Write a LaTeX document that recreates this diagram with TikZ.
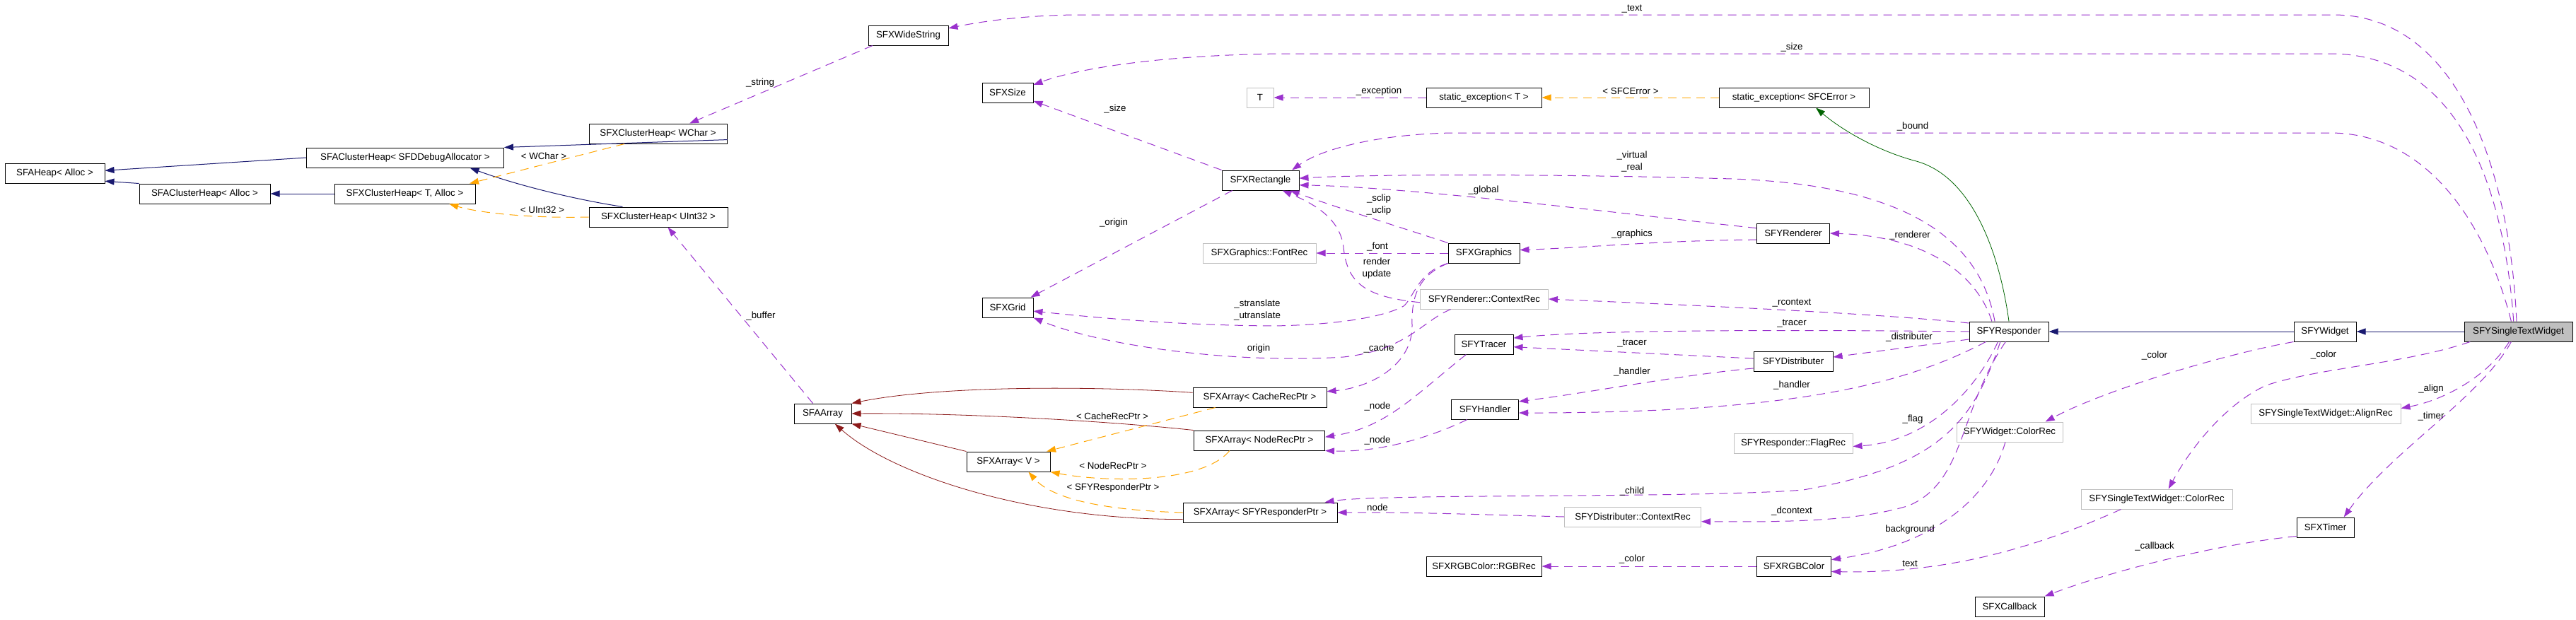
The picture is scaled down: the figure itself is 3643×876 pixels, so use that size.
\documentclass[tikz,border=0pt]{standalone}
\usepackage{fontspec}
\setmainfont{Liberation Sans}
\usetikzlibrary{arrows.meta}
\definecolor{edgeblue}{HTML}{191970}
\definecolor{edgegreen}{HTML}{006400}
\definecolor{edgered}{HTML}{8B1A1A}
\definecolor{edgeuse}{HTML}{9A32CD}
\definecolor{edgetmpl}{HTML}{FFA500}
\definecolor{boxgray}{HTML}{BFBFBF}
\newcommand{\dxfont}{\fontsize{13.3}{17}\selectfont}

\begin{document}
\begin{tikzpicture}[x=1pt, y=-1pt,
  box/.style={line width=1pt, minimum height=28pt, inner sep=0pt, font=\dxfont},
  cls/.style={box, draw=black},
  ext/.style={box, draw=boxgray},
  cur/.style={box, draw=black, fill=boxgray},
  lbl/.style={font=\dxfont, align=center, inner sep=0pt},
  tip/.style={-{Triangle[length=13pt,width=9pt]}},
  inh/.style={tip, draw=edgeblue, line width=1pt},
  prot/.style={tip, draw=edgegreen, line width=0.8pt},
  priv/.style={tip, draw=edgered, line width=0.8pt},
  use/.style={tip, draw=edgeuse, line width=1pt, dash pattern=on 12pt off 8pt},
  tmpl/.style={tip, draw=edgetmpl, line width=1pt, dash pattern=on 12pt off 8pt}
]
\useasboundingbox (0,0) rectangle (3643,876);

% classes
\node[cls, minimum width=141pt] (heap) at (77.5,245) {SFAHeap< Alloc >};
\node[cls, minimum width=185pt] (clalloc) at (289.5,274) {SFAClusterHeap< Alloc >};
\node[cls, minimum width=279pt] (cldbg) at (573,223) {SFAClusterHeap< SFDDebugAllocator >};
\node[cls, minimum width=199pt] (xclT) at (572.5,274) {SFXClusterHeap< T, Alloc >};
\node[cls, minimum width=195pt] (xclW) at (930.5,189) {SFXClusterHeap< WChar >};
\node[cls, minimum width=196pt] (xclU) at (931,307) {SFXClusterHeap< UInt32 >};
\node[cls, minimum width=113pt] (wstr) at (1284.5,50) {SFXWideString};
\node[cls, minimum width=72pt] (size) at (1425,131) {SFXSize};
\node[ext, minimum width=38pt] (tpar) at (1782,138) {T};
\node[cls, minimum width=109pt] (rect) at (1782.5,255) {SFXRectangle};
\node[ext, minimum width=160pt] (font) at (1781,358) {SFXGraphics::FontRec};
\node[cls, minimum width=72pt] (grid) at (1425,435) {SFXGrid};
\node[cls, minimum width=163pt] (excT) at (2098.5,138) {static\_exception< T >};
\node[cls, minimum width=101pt] (gfx) at (2098.5,358) {SFXGraphics};
\node[ext, minimum width=181pt] (rctx) at (2099,423) {SFYRenderer::ContextRec};
\node[cls, minimum width=212pt] (excE) at (2537,138) {static\_exception< SFCError >};
\node[cls, minimum width=103pt] (rend) at (2536,330) {SFYRenderer};
\node[cls, minimum width=81pt] (array) at (1163.5,585) {SFAArray};
\node[cls, minimum width=189pt] (arrC) at (1781.5,562) {SFXArray< CacheRecPtr >};
\node[cls, minimum width=185pt] (arrN) at (1781,623) {SFXArray< NodeRecPtr >};
\node[cls, minimum width=118pt] (arrV) at (1426,653) {SFXArray< V >};
\node[cls, minimum width=218pt] (arrR) at (1782,725) {SFXArray< SFYResponderPtr >};
\node[cls, minimum width=83pt] (tracer) at (2098.5,487) {SFYTracer};
\node[cls, minimum width=95pt] (handler) at (2100,579) {SFYHandler};
\node[ext, minimum width=193pt] (dctx) at (2309,731) {SFYDistributer::ContextRec};
\node[cls, minimum width=163pt] (rgbrec) at (2098.5,801) {SFXRGBColor::RGBRec};
\node[cls, minimum width=112pt] (resp) at (2841,469) {SFYResponder};
\node[cls, minimum width=112pt] (dist) at (2536,511) {SFYDistributer};
\node[ext, minimum width=168pt] (flag) at (2536,627) {SFYResponder::FlagRec};
\node[ext, minimum width=150pt] (wcol) at (2842,611) {SFYWidget::ColorRec};
\node[cls, minimum width=105pt] (rgb) at (2537,801) {SFXRGBColor};
\node[cls, minimum width=98pt] (cb) at (2842,858) {SFXCallback};
\node[ext, minimum width=214pt] (scol) at (3050,706) {SFYSingleTextWidget::ColorRec};
\node[cls, minimum width=88pt] (widget) at (3288,469) {SFYWidget};
\node[cur, minimum width=153pt] (stw) at (3561.5,469) {SFYSingleTextWidget};
\node[ext, minimum width=212pt] (align) at (3289,585) {SFYSingleTextWidget::AlignRec};
\node[cls, minimum width=81pt] (timer) at (3288.5,746) {SFXTimer};

% inheritance
\draw[inh] (cldbg.west) -- (heap.3);
\draw[inh] (clalloc.north west) -- (heap.-9);
\draw[inh] (xclT.west) -- (clalloc.east);
\draw[inh] (xclW.-5) -- (cldbg.north east);
\draw[inh] (xclU.164) .. controls (800,280) and (720,258) .. (cldbg.-9);
\draw[inh] (widget.west) -- (resp.east);
\draw[inh] (stw.west) -- (widget.east);
\draw[prot] (resp.north) .. controls (2828,360) and (2790,250) .. (2710,228) .. controls (2650,212) and (2600,180) .. (excE.-25);
\draw[priv] (arrC.176) .. controls (1550,546) and (1330,545) .. (array.north east);
\draw[priv] (arrN.north west) .. controls (1550,594) and (1350,584) .. (array.east);
\draw[priv] (arrV.north west) -- (array.south east);
\draw[priv] (arrR.185) .. controls (1450,735) and (1260,670) .. (array.-40);

% template instances
\draw[tmpl] (xclW.197) -- (xclT.9);
\draw[tmpl] (xclU.west) .. controls (760,309) and (680,302) .. (xclT.-13);
\draw[tmpl] (excE.west) -- (excT.east);
\draw[tmpl] (arrC.193) -- (arrV.15);
\draw[tmpl] (arrN.199) .. controls (1700,685) and (1560,682) .. (arrV.south east);
\draw[tmpl] (arrR.west) .. controls (1570,722) and (1490,708) .. (arrV.-27);

% usage
\draw[use] (stw.100) .. controls (3550,250) and (3480,21) .. (3300,21) -- (1520,21) .. controls (1440,22) and (1380,32) .. (wstr.10);
\draw[use] (stw.115) .. controls (3540,250) and (3470,76) .. (3295,76) -- (1810,76) .. controls (1650,78) and (1530,95) .. (size.17);
\draw[use] (stw.125) .. controls (3520,330) and (3440,188) .. (3295,188) -- (2053,188) .. controls (1950,190) and (1870,210) .. (rect.18);
\draw[use] (wstr.196) -- (xclW.18);
\draw[use] (rect.north west) -- (size.-18);
\draw[use] (rect.200) -- (grid.24);
\draw[use] (excT.west) -- (tpar.east);
\draw[use] (array.134) -- (xclU.-47);
\draw[use] (rend.172) .. controls (2300,303) and (2000,265) .. (rect.-7);
\draw[use] (resp.144) .. controls (2800,340) and (2700,262) .. (2450,253) .. controls (2200,246) and (1950,246) .. (rect.3);
\draw[use] (rend.190) .. controls (2350,340) and (2250,350) .. (gfx.5);
\draw[use] (resp.149) .. controls (2800,400) and (2740,335) .. (rend.east);
\draw[use] (gfx.west) -- (font.east);
\draw[use] (gfx.north west) .. controls (1960,315) and (1880,290) .. (rect.-19);
\draw[use] (rctx.183) .. controls (1930,420) and (1905,400) .. (1900,350) .. controls (1895,305) and (1850,285) .. (rect.-25);
\draw[use] (gfx.south west) .. controls (2005,385) and (2000,420) .. (1985,433) .. controls (1950,452) and (1870,460) .. (1800,461) .. controls (1650,460) and (1530,447) .. (grid.-8);
\draw[use] (gfx.south west) .. controls (2005,390) and (1996,420) .. (1997,460) .. controls (1998,515) and (1940,548) .. (arrC.5);
\draw[use] (rctx.197) .. controls (2010,455) and (1990,495) .. (1900,505) .. controls (1750,515) and (1560,490) .. (grid.south east);
\draw[use] (tracer.210) .. controls (2000,560) and (1960,605) .. (arrN.3);
\draw[use] (handler.210) .. controls (2020,620) and (1950,640) .. (arrN.south east);
\draw[use] (resp.168) .. controls (2650,443) and (2400,432) .. (rctx.east);
\draw[use] (resp.west) .. controls (2500,466) and (2250,467) .. (tracer.12);
\draw[use] (resp.191) -- (dist.6);
\draw[use] (resp.204) .. controls (2700,540) and (2550,584) .. (handler.-6);
\draw[use] (resp.223) .. controls (2790,560) and (2720,625) .. (flag.-3);
\draw[use] (resp.230) .. controls (2790,600) and (2740,660) .. (2550,693) .. controls (2400,705) and (1950,698) .. (arrR.9);
\draw[use] (resp.-108) .. controls (2770,580) and (2780,680) .. (2700,715) .. controls (2620,740) and (2500,738) .. (dctx.-4);
\draw[use] (wcol.-113) .. controls (2815,700) and (2740,770) .. (rgb.10);
\draw[use] (scol.196) .. controls (2900,765) and (2770,812) .. (rgb.-8);
\draw[use] (rgb.west) -- (rgbrec.east);
\draw[use] (widget.south west) .. controls (3150,500) and (2980,550) .. (wcol.16);
\draw[use] (stw.192) .. controls (3400,515) and (3280,520) .. (3205,545) .. controls (3150,570) and (3100,630) .. (scol.41);
\draw[use] (stw.228) .. controls (3520,530) and (3460,565) .. (align.4);
\draw[use] (stw.235) .. controls (3510,560) and (3380,640) .. (timer.29);
\draw[use] (timer.197) .. controls (3130,770) and (2980,810) .. (cb.north east);
\draw[use] (dist.176) -- (tracer.-5);
\draw[use] (dist.190) .. controls (2380,530) and (2250,555) .. (handler.13);
\draw[use] (dctx.west) .. controls (2100,728) and (1980,724) .. (arrR.east);

% edge labels
\node[lbl] (lString) at (1075,117) {\_string};
\node[lbl] (lWChar) at (769,221) {< WChar >};
\node[lbl] (lUInt) at (767,297) {< UInt32 >};
\node[lbl] (lText) at (2308,13) {\_text};
\node[lbl] (lSize) at (2534,67) {\_size};
\node[lbl] (lExc) at (1950,129) {\_exception};
\node[lbl] (lErr) at (2306,129) {< SFCError >};
\node[lbl] (lRSize) at (1577,154) {\_size};
\node[lbl] (lBound) at (2705,179) {\_bound};
\node[lbl] (lVirt) at (2308,228) {\_virtual\\\_real};
\node[lbl] (lGlobal) at (2098,269) {\_global};
\node[lbl] (lClip) at (1950,290) {\_sclip\\\_uclip};
\node[lbl] (lOrigin) at (1575,315) {\_origin};
\node[lbl] (lGfx) at (2308,331) {\_graphics};
\node[lbl] (lRend) at (2701,333) {\_renderer};
\node[lbl] (lFont) at (1948,349) {\_font};
\node[lbl] (lRender) at (1947,380) {render\\update};
\node[lbl] (lRctx) at (2534,429) {\_rcontext};
\node[lbl] (lTrans) at (1778,438) {\_stranslate\\\_utranslate};
\node[lbl] (lBuf) at (1076,447) {\_buffer};
\node[lbl] (lTracerA) at (2534,458) {\_tracer};
\node[lbl] (lDist) at (2700,477) {\_distributer};
\node[lbl] (lTracerB) at (2308,486) {\_tracer};
\node[lbl] (lOrg) at (1780,493) {origin};
\node[lbl] (lCache) at (1950,493) {\_cache};
\node[lbl] (lColA) at (3047,503) {\_color};
\node[lbl] (lColB) at (3286,502) {\_color};
\node[lbl] (lHandB) at (2308,526) {\_handler};
\node[lbl] (lHandA) at (2534,545) {\_handler};
\node[lbl] (lAlign) at (3438,550) {\_align};
\node[lbl] (lNodeA) at (1948,575) {\_node};
\node[lbl] (lTimer) at (3438,589) {\_timer};
\node[lbl] (lCRec) at (1573,589) {< CacheRecPtr >};
\node[lbl] (lFlag) at (2705,593) {\_flag};
\node[lbl] (lNodeB) at (1948,623) {\_node};
\node[lbl] (lNRec) at (1574,659) {< NodeRecPtr >};
\node[lbl] (lRRec) at (1574,690) {< SFYResponderPtr >};
\node[lbl] (lChild) at (2308,695) {\_child};
\node[lbl] (lNode) at (1948,718) {node};
\node[lbl] (lDctx) at (2534,723) {\_dcontext};
\node[lbl] (lBack) at (2701,749) {background};
\node[lbl] (lCb) at (3047,773) {\_callback};
\node[lbl] (lColC) at (2308,791) {\_color};
\node[lbl] (lTxt) at (2701,797) {text};
\end{tikzpicture}
\end{document}
